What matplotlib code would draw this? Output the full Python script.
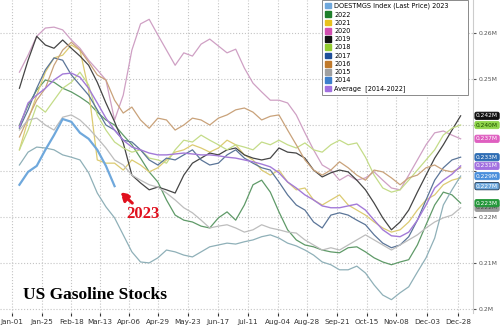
import matplotlib
matplotlib.use("Agg")
import matplotlib.pyplot as plt
from matplotlib.patches import Patch
import pandas as pd

# weekly gasoline inventories, million barrels (plotted on a 2023 calendar)
weeks = pd.date_range("2023-01-07", periods=52, freq="7D")

s2023 = [227.0, 229.8, 231.1, 234.6, 237.8, 241.3, 240.7, 238.3, 237.0, 234.6, 231.1, 226.7]

s2022 = [240.0, 244.3, 247.6, 249.8, 249.3, 248.0, 247.2, 246.1, 244.8, 242.8, 241.1, 240.0,
         237.8, 235.7, 232.8, 229.8, 227.6, 223.7, 220.4, 219.3, 218.9, 218.0, 217.6, 219.8,
         221.1, 219.3, 222.6, 227.0, 228.0, 225.4, 221.1, 217.2, 215.0, 213.9, 213.5, 212.8,
         212.4, 212.2, 213.3, 213.5, 212.4, 211.1, 210.2, 209.6, 210.2, 210.7, 213.9, 218.3,
         222.6, 225.4, 224.8, 223.0]

s2021 = [234.6, 241.1, 246.5, 251.5, 254.6, 255.2, 257.4, 256.3, 247.6, 232.4, 231.7, 231.7,
         230.2, 232.4, 231.3, 229.8, 230.7, 232.4, 234.1, 234.6, 235.7, 235.0, 234.1, 235.0,
         236.7, 235.7, 233.5, 232.4, 230.2, 229.1, 230.2, 227.6, 225.9, 226.3, 223.7, 222.6,
         223.7, 224.8, 222.6, 221.5, 220.4, 218.9, 217.6, 216.7, 217.2, 218.9, 221.5, 223.7,
         224.8, 227.0, 228.0, 228.5]

s2020 = [251.5, 255.2, 259.3, 261.1, 261.3, 260.7, 258.5, 256.7, 254.1, 252.0, 249.8, 241.1,
         246.5, 256.3, 262.0, 263.0, 259.6, 256.3, 253.0, 255.7, 255.0, 257.6, 258.7, 257.2,
         255.7, 256.5, 252.4, 249.1, 247.2, 245.4, 245.4, 244.8, 242.2, 238.3, 234.6, 231.3,
         230.2, 228.0, 229.1, 228.0, 228.5, 229.8, 228.0, 226.3, 225.9, 229.1, 232.4, 235.7,
         238.3, 238.7, 237.8, 237.0]

s2019 = [248.0, 254.1, 259.3, 257.4, 256.7, 258.5, 256.7, 255.0, 253.0, 249.3, 244.8, 240.7,
         236.1, 229.1, 227.4, 225.9, 226.5, 225.9, 225.2, 229.1, 231.7, 232.8, 233.9, 233.5,
         234.6, 235.0, 233.5, 232.8, 232.4, 232.8, 235.0, 234.1, 233.9, 232.8, 230.2, 228.7,
         229.6, 230.2, 229.8, 228.0, 225.9, 223.0, 219.8, 217.2, 218.9, 221.5, 225.4, 229.1,
         232.8, 235.7, 238.9, 242.0]

s2018 = [234.6, 238.9, 244.3, 242.8, 245.4, 248.0, 249.3, 251.5, 248.7, 242.2, 238.9, 236.3,
         235.0, 234.1, 234.6, 232.8, 232.4, 231.7, 234.6, 236.7, 236.3, 237.8, 236.7, 235.7,
         234.6, 235.7, 235.2, 234.6, 236.3, 235.7, 236.7, 235.7, 235.0, 236.1, 234.6, 234.1,
         235.7, 236.7, 235.7, 236.1, 233.0, 229.1, 226.3, 225.4, 225.9, 228.0, 230.2, 232.4,
         234.6, 237.8, 239.3, 240.0]

s2017 = [239.3, 243.3, 248.0, 252.0, 254.6, 254.1, 250.9, 248.7, 246.5, 243.3, 240.0, 238.9,
         236.7, 236.3, 234.6, 232.4, 231.3, 232.8, 232.4, 233.5, 234.6, 232.4, 231.3, 231.7,
         233.5, 234.6, 232.8, 231.7, 230.7, 230.2, 227.6, 224.8, 222.6, 221.5, 218.9, 217.6,
         220.4, 220.9, 220.4, 219.3, 218.3, 216.1, 214.3, 213.3, 213.9, 215.7, 219.3, 223.7,
         228.0, 230.7, 232.4, 233.0]

s2016 = [237.4, 241.5, 245.4, 248.0, 253.0, 256.3, 258.0, 256.3, 253.7, 250.9, 249.8, 245.4,
         242.6, 243.9, 241.1, 239.3, 241.5, 241.1, 238.9, 240.0, 241.5, 241.1, 240.0, 241.5,
         242.2, 243.3, 243.7, 242.8, 241.1, 241.9, 242.2, 238.9, 235.7, 232.4, 230.2, 229.1,
         230.2, 232.0, 230.7, 229.1, 228.0, 230.2, 229.8, 228.5, 227.0, 228.5, 229.1, 230.7,
         231.3, 230.2, 229.8, 230.7]

s2015 = [238.9, 241.1, 241.5, 240.0, 238.9, 241.7, 242.2, 241.1, 239.3, 237.2, 235.0, 232.4,
         231.3, 229.1, 228.0, 227.0, 226.5, 225.2, 223.7, 222.0, 220.9, 219.3, 217.6, 218.0,
         218.3, 217.6, 216.7, 217.2, 218.3, 217.6, 217.2, 216.7, 216.5, 215.0, 213.9, 212.8,
         213.3, 212.8, 213.9, 215.0, 216.1, 215.0, 213.9, 212.8, 213.9, 215.0, 216.1, 217.6,
         218.9, 219.8, 220.4, 222.0]

s2014 = [231.3, 234.1, 235.2, 235.0, 234.6, 233.5, 233.0, 232.4, 229.6, 225.2, 222.2, 219.8,
         216.1, 212.4, 210.2, 210.0, 211.1, 212.8, 212.4, 211.7, 211.3, 212.4, 213.5, 213.9,
         214.3, 214.1, 214.6, 215.0, 215.7, 216.1, 215.4, 214.3, 213.7, 212.8, 211.7, 210.2,
         209.6, 208.5, 208.5, 209.3, 207.8, 205.2, 203.0, 202.0, 203.5, 204.8, 208.0, 211.1,
         215.4, 222.6, 225.9, 228.9]

avg = [239.6, 244.8, 246.5, 248.0, 249.8, 251.1, 251.3, 250.4, 248.0, 244.8, 241.5, 238.9,
       236.7, 235.2, 234.6, 233.9, 233.5, 233.5, 233.7, 233.9, 233.7, 233.5, 233.5, 233.3,
       233.0, 232.8, 232.4, 232.0, 231.5, 230.9, 229.6, 227.6, 226.3, 224.8, 223.7, 222.4,
       222.0, 222.0, 222.4, 222.8, 221.5, 219.3, 217.2, 215.9, 215.7, 216.7, 219.3, 222.6,
       226.3, 228.0, 229.3, 231.1]

tick_labels = ["Jan-01", "Jan-25", "Feb-18", "Mar-13", "Apr-06", "Apr-29", "May-23", "Jun-17",
               "Jul-11", "Aug-04", "Aug-28", "Sep-21", "Oct-15", "Nov-08", "Dec-03", "Dec-28"]

legend_names = ["DOESTMGS Index (Last Price) 2023", "2022", "2021", "2020", "2019", "2018",
                "2017", "2016", "2015", "2014", "Average  [2014-2022]"]

colors = {"2023": "#6fa8dc", "2022": "#1e7f2a", "2021": "#e8c21c", "2020": "#d24fb0",
          "2019": "#111111", "2018": "#93cc2e", "2017": "#1f4f9a", "2016": "#c07a2c",
          "2015": "#a0a0a0", "2014": "#3d7fcc", "avg": "#a270e0"}

# faded tones for the history lines
line_colors = {"2022": "#5f9a68", "2021": "#dccb72", "2020": "#cfa0c4", "2019": "#454545",
               "2018": "#c4dc88", "2017": "#5b7598", "2016": "#c9a27a", "2015": "#bdbdbd",
               "2014": "#8fb0b8"}

years = [("2022", s2022), ("2021", s2021), ("2020", s2020), ("2019", s2019), ("2018", s2018),
         ("2017", s2017), ("2016", s2016), ("2015", s2015), ("2014", s2014)]

fig = plt.figure(figsize=(5, 3.25), dpi=100)
ax = fig.add_axes([0, 12 / 325, 473 / 500, 313 / 325])

for name, vals in years:
    ax.plot(weeks[:len(vals)], vals, color=line_colors[name], lw=0.9)
ax.plot(weeks, avg, color="#a37ad8", lw=1.0)
ax.plot(weeks[:len(s2023)], s2023, color=colors["2023"], lw=1.6)

ax.set_xlim(pd.Timestamp("2022-12-22 07:00"), pd.Timestamp("2024-01-09"))
ax.set_ylim(199.1, 267.2)

ticks = pd.to_datetime(["2023-" + t for t in tick_labels], format="%Y-%b-%d")
ax.set_xticks(ticks)
ax.set_xticklabels(tick_labels)
ax.set_yticks(range(200, 261, 10))
# 0.23M and 0.24M sit under the value tags
ax.set_yticklabels([f"{v / 1000:g}M" if v not in (230, 240) else "" for v in range(200, 261, 10)])
ax.yaxis.tick_right()
ax.tick_params(axis="x", labelsize=5.2, colors="#333333", length=2, pad=2)
ax.tick_params(axis="y", labelsize=4.4, colors="#555555", length=2.5, pad=1.5)
ax.grid(True, ls=":", color="#c4c4c4", lw=0.8)
for side in ["left", "top", "bottom"]:
    ax.spines[side].set_visible(False)
ax.spines["right"].set_color("#cccccc")

# last-value tags on the right edge
tags = [("2015", s2015, "#9a9a9a", "#444444"), ("avg", avg, "#a270e0", "white"),
        ("2014", s2014, "#4a8fdc", "white"), ("2023", s2023, "#6fa8dc", "white"),
        ("2022", s2022, "#24973a", "white"), ("2017", s2017, "#2e6db4", "white"),
        ("2020", s2020, "#df5fc0", "white"), ("2018", s2018, "#8fd44a", "#1d4d00"),
        ("2019", s2019, "#111111", "white")]
for name, vals, face, fg in tags:
    edge = "#1c3550" if name == "2023" else face
    ax.annotate(f"{vals[-1] / 1000:.3f}M", xy=(1.0, vals[-1]),
                xycoords=("axes fraction", "data"), xytext=(2.2, 0),
                textcoords="offset points", ha="left", va="center", fontsize=4.2,
                color=fg, annotation_clip=False,
                bbox=dict(boxstyle="round,pad=0.2,rounding_size=0.3", fc=face, ec=edge, lw=0.6))

handles = [Patch(color=colors[k]) for k in
           ["2023", "2022", "2021", "2020", "2019", "2018", "2017", "2016", "2015", "2014", "avg"]]
leg = ax.legend(handles, legend_names, loc="upper left", mode="expand",
                bbox_to_anchor=(322 / 473, 0, 146 / 473, 1.0), fontsize=4.7,
                labelspacing=0.32, handlelength=1.0, handleheight=1.0, handletextpad=0.5,
                borderpad=0.4, borderaxespad=0, fancybox=False, framealpha=1)
leg.get_frame().set_edgecolor("#8a8a8a")
leg.get_frame().set_linewidth(0.7)

# callout for the current year
red = "#e0101e"
ax.annotate("", xy=(weeks[11] + pd.Timedelta(days=3), 225.8),
            xytext=(weeks[11] + pd.Timedelta(days=16), 222.6),
            arrowprops=dict(arrowstyle="-|>,head_length=0.6,head_width=0.35", color=red,
                            lw=2.2, ls=(0, (1.5, 1.2)), mutation_scale=8))
ax.text(pd.Timestamp("2023-04-17"), 220.6, "2023", color=red, fontsize=12,
        family="Liberation Serif", fontweight="bold", ha="center", va="center")

fig.text(23 / 500, 30 / 325, "US Gasoline Stocks", fontsize=12.5,
         family="Liberation Serif", fontweight="bold", ha="left", va="center")

fig.savefig("out.png", dpi=100)
